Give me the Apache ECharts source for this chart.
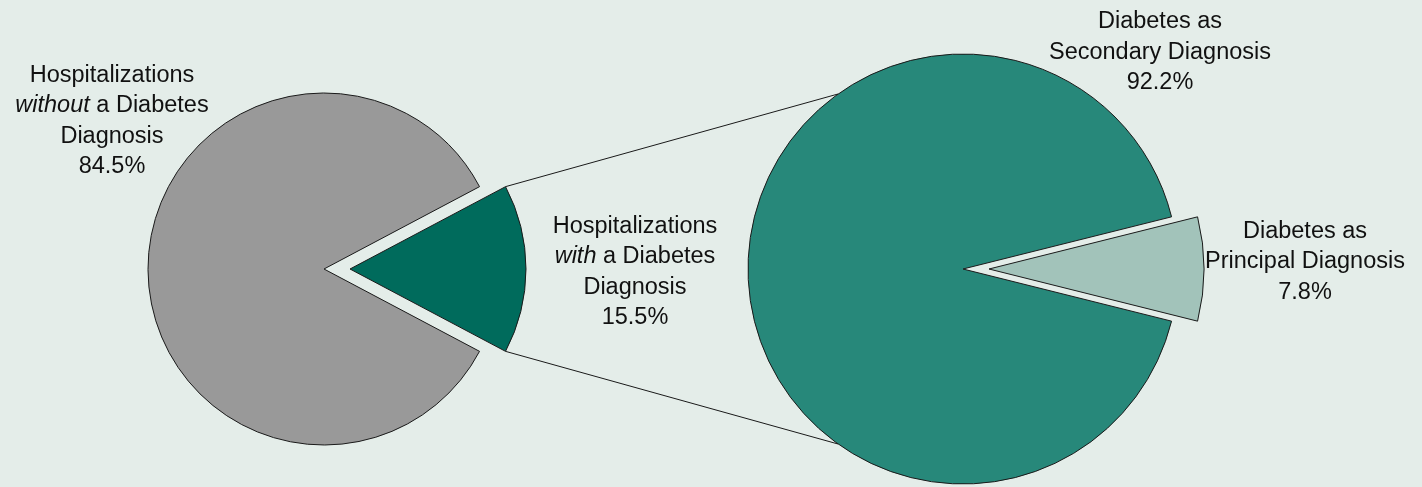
<!DOCTYPE html>
<html>
<head>
<meta charset="utf-8">
<script src="https://cdn.jsdelivr.net/npm/echarts@6/dist/echarts.min.js"></script>
<style>
  html, body { margin: 0; padding: 0; background: #e4ede9; }
  #chart { width: 1422px; height: 487px; }
</style>
</head>
<body>
<div id="chart"></div>
<script>
// All hospitalizations, split by whether diabetes was diagnosed
const overallNames = [
  'Hospitalizations\n{i|with} a Diabetes\nDiagnosis',
  'Hospitalizations\n{i|without} a Diabetes\nDiagnosis'
];
const overallValues = [15.5, 84.5];

// Hospitalizations with diabetes, split by diagnosis type
const diabetesNames = [
  'Diabetes as\nPrincipal Diagnosis',
  'Diabetes as\nSecondary Diagnosis'
];
const diabetesValues = [7.8, 92.2];

// Layout and styling
const leftCenter = [324, 269], leftRadius = 176;
const rightCenter = [963, 269], rightRadius = 215;
const explode = 26;
const overallColors = ['#006b5c', '#999999'];
const diabetesColors = ['#a2c3ba', '#27887a'];
const overallLabelPos = [[635, 272], [112, 121]];
const diabetesLabelPos = [[1305, 262], [1160, 52.5]];
const connectorAngle = 125.5; // where the connectors meet the right pie (degrees)

const chart = echarts.init(document.getElementById('chart'), null, { renderer: 'canvas' });

const FONT = "'Liberation Sans', Arial, sans-serif";
const baseText = { fontFamily: FONT, fontSize: 23.5, fill: '#111', lineHeight: 30.5 };

function buildData(names, values, colors) {
  return values.map((v, i) => ({
    name: names[i],
    value: v,
    selected: i === 0,
    itemStyle: { color: colors[i] }
  }));
}

function pieSeries(names, values, colors, center, radius) {
  const total = values.reduce((a, b) => a + b, 0);
  return {
    type: 'pie',
    center: center,
    radius: radius,
    startAngle: values[0] / total * 180,
    clockwise: true,
    selectedMode: 'single',
    selectedOffset: explode,
    avoidLabelOverlap: false,
    silent: true,
    emphasis: { disabled: true },
    itemStyle: { borderColor: '#1a1a1a', borderWidth: 1 },
    label: { show: false },
    labelLine: { show: false },
    data: buildData(names, values, colors)
  };
}

// Slice labels: name lines followed by the share
function labelGraphics(names, values, positions) {
  return names.map((n, i) => ({
    type: 'text',
    x: positions[i][0],
    y: positions[i][1],
    style: {
      text: n + '\n' + values[i].toFixed(1) + '%',
      align: 'center',
      verticalAlign: 'middle',
      ...baseText,
      rich: {
        i: { ...baseText, fontStyle: 'italic' }
      }
    }
  }));
}

// Connector lines from the exploded slice corners to the right pie's rim
const halfAngle = overallValues[0] / (overallValues[0] + overallValues[1]) * Math.PI;
const apexX = leftCenter[0] + explode;
const cornerTop = [apexX + leftRadius * Math.cos(halfAngle), leftCenter[1] - leftRadius * Math.sin(halfAngle)];
const cornerBot = [apexX + leftRadius * Math.cos(halfAngle), leftCenter[1] + leftRadius * Math.sin(halfAngle)];
const ca = connectorAngle * Math.PI / 180;
const rimTop = [rightCenter[0] + rightRadius * Math.cos(ca), rightCenter[1] - rightRadius * Math.sin(ca)];
const rimBot = [rightCenter[0] + rightRadius * Math.cos(ca), rightCenter[1] + rightRadius * Math.sin(ca)];

chart.setOption({
  backgroundColor: '#e4ede9',
  animation: false,
  graphic: [
    { type: 'line', z: -1, shape: { x1: cornerTop[0], y1: cornerTop[1], x2: rimTop[0], y2: rimTop[1] }, style: { stroke: '#1a1a1a', lineWidth: 1 } },
    { type: 'line', z: -1, shape: { x1: cornerBot[0], y1: cornerBot[1], x2: rimBot[0], y2: rimBot[1] }, style: { stroke: '#1a1a1a', lineWidth: 1 } },
    ...labelGraphics(overallNames, overallValues, overallLabelPos),
    ...labelGraphics(diabetesNames, diabetesValues, diabetesLabelPos)
  ],
  series: [
    pieSeries(overallNames, overallValues, overallColors, leftCenter, leftRadius),
    pieSeries(diabetesNames, diabetesValues, diabetesColors, rightCenter, rightRadius)
  ]
});
</script>
</body>
</html>
